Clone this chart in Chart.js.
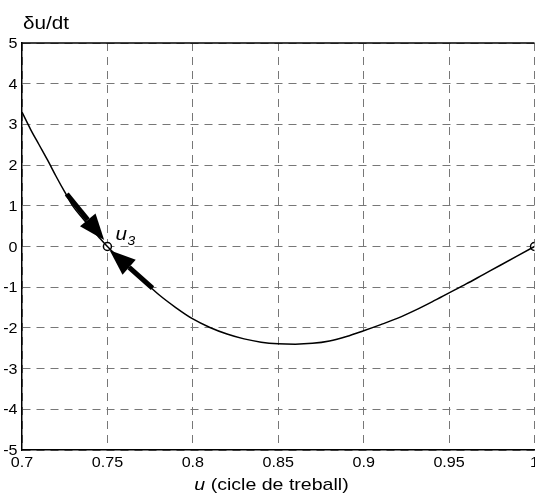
<!DOCTYPE html>
<html lang="ca">
<head>
<meta charset="UTF-8">
<title>δu/dt</title>
<script src="https://cdn.jsdelivr.net/npm/chart.js"></script>
<style>
    html, body { margin: 0; padding: 0; background: #fff; overflow: hidden; }
    .wrap { width: 540px; height: 494px; position: relative; }
</style>
</head>
<body>
<div class="wrap"><canvas id="phase"></canvas></div>
<script>
// u (work cycle) and the derivative du/dt along the curve
const uValues = [0.700, 0.705, 0.710, 0.715, 0.720, 0.725, 0.730, 0.735, 0.740, 0.745,
                 0.750, 0.760, 0.770, 0.780, 0.790, 0.800, 0.810, 0.820, 0.830, 0.840,
                 0.850, 0.860, 0.870, 0.880, 0.890, 0.900, 0.910, 0.920, 0.930, 0.940,
                 0.950, 0.960, 0.970, 0.980, 0.990, 1.000];
const dudtValues = [3.30, 2.88, 2.50, 2.12, 1.72, 1.34, 0.98, 0.72, 0.47, 0.23,
                    0.00, -0.41, -0.80, -1.18, -1.50, -1.78, -1.99, -2.15, -2.27, -2.35,
                    -2.39, -2.40, -2.38, -2.32, -2.21, -2.07, -1.92, -1.76, -1.57, -1.36,
                    -1.14, -0.92, -0.69, -0.46, -0.23, 0.00];

// equilibrium points (open circles)
const eqU = [0.75, 1.0];
const eqV = [0, 0];

// flow arrows: tail -> tip, in data units
const arrowTailU = [0.7262, 0.7764];
const arrowTailV = [1.29, -1.02];
const arrowTipU = [0.7481, 0.7513];
const arrowTipV = [0.16, -0.09];

const xTicks = [0.7, 0.75, 0.8, 0.85, 0.9, 0.95, 1.0];
const yTicks = [-5, -4, -3, -2, -1, 0, 1, 2, 3, 4, 5];

const FONT = '"Liberation Sans", Arial, Helvetica, sans-serif';
const SX = 1.15; // horizontal stretch of the lettering

function text(ctx, str, x, y, font, align) {
    ctx.save();
    ctx.translate(x, y);
    ctx.scale(SX, 1);
    ctx.font = font;
    ctx.textAlign = align || 'left';
    ctx.textBaseline = 'alphabetic';
    ctx.fillText(str, 0, 0);
    ctx.restore();
}

function textWidth(ctx, str, font) {
    ctx.save();
    ctx.font = font;
    const w = ctx.measureText(str).width * SX;
    ctx.restore();
    return w;
}

const decorations = {
    id: 'decorations',
    afterDraw(chart) {
        const { ctx, chartArea: a, scales: { x, y } } = chart;
        ctx.save();
        // top frame line
        ctx.strokeStyle = '#000';
        ctx.lineWidth = 1.5;
        ctx.beginPath();
        ctx.moveTo(a.left, a.top);
        ctx.lineTo(a.right, a.top);
        ctx.stroke();

        // arrows
        ctx.fillStyle = '#000';
        for (let i = 0; i < arrowTailU.length; i++) {
            const x0 = x.getPixelForValue(arrowTailU[i]);
            const y0 = y.getPixelForValue(arrowTailV[i]);
            const x1 = x.getPixelForValue(arrowTipU[i]);
            const y1 = y.getPixelForValue(arrowTipV[i]);
            const ang = Math.atan2(y1 - y0, x1 - x0);
            const headLen = 26, headHalf = 10;
            const bx = x1 - headLen * Math.cos(ang);
            const by = y1 - headLen * Math.sin(ang);
            ctx.lineWidth = 5;
            ctx.lineCap = 'butt';
            ctx.beginPath();
            ctx.moveTo(x0, y0);
            ctx.lineTo(bx, by);
            ctx.stroke();
            ctx.beginPath();
            ctx.moveTo(x1, y1);
            ctx.lineTo(bx + headHalf * Math.sin(ang), by - headHalf * Math.cos(ang));
            ctx.lineTo(bx - headHalf * Math.sin(ang), by + headHalf * Math.cos(ang));
            ctx.closePath();
            ctx.fill();
        }

        // tick labels
        const tickFont = '14px ' + FONT;
        xTicks.forEach(v => {
            text(ctx, String(v), x.getPixelForValue(v), 467, tickFont, 'center');
        });
        yTicks.forEach(v => {
            text(ctx, String(v), 17.5, y.getPixelForValue(v) + 5, tickFont, 'right');
        });

        // label of the equilibrium point
        const lx = x.getPixelForValue(eqU[0]) + 8;
        const ly = y.getPixelForValue(eqV[0]) - 6.5;
        const uFont = 'italic 18px ' + FONT;
        text(ctx, 'u', lx, ly, uFont);
        text(ctx, '3', lx + textWidth(ctx, 'u', uFont) + 0.5, ly + 5, 'italic 12px ' + FONT);

        // y axis title
        text(ctx, 'δu/dt', 23, 28.5, '18px ' + FONT);

        // x axis title, with italic u
        const f1 = 'italic 17px ' + FONT, f2 = '17px ' + FONT;
        const t1 = 'u', t2 = ' (cicle de treball)';
        const w1 = textWidth(ctx, t1, f1), w2 = textWidth(ctx, t2, f2);
        const sx = 271.5 - (w1 + w2) / 2;
        text(ctx, t1, sx, 490, f1);
        text(ctx, t2, sx + w1, 490, f2);
        ctx.restore();
    }
};

new Chart(document.getElementById('phase'), {
    type: 'line',
    data: {
        datasets: [{
            data: uValues.map((u, i) => ({ x: u, y: dudtValues[i] })),
            borderColor: '#000',
            borderWidth: 1.5,
            pointRadius: 0,
            cubicInterpolationMode: 'monotone',
            fill: false
        }, {
            data: eqU.map((u, i) => ({ x: u, y: eqV[i] })),
            showLine: false,
            pointRadius: 4,
            pointBorderWidth: 1.5,
            pointBorderColor: '#000',
            pointBackgroundColor: '#fff'
        }]
    },
    options: {
        responsive: true,
        maintainAspectRatio: false,
        animation: false,
        layout: { padding: { top: 43, right: 3.6, left: 0, bottom: 0 } },
        plugins: {
            legend: { display: false },
            tooltip: { enabled: false }
        },
        scales: {
            x: {
                type: 'linear',
                min: 0.7,
                max: 1.0,
                afterBuildTicks: s => { s.ticks = xTicks.map(v => ({ value: v })); },
                afterFit: s => { s.height = 44; s.paddingLeft = 0; s.paddingRight = 0; },
                ticks: { display: false },
                grid: { color: '#777', lineWidth: 1, drawTicks: false },
                border: { color: '#000', width: 1.5, dash: [8, 6] }
            },
            y: {
                min: -5,
                max: 5,
                afterBuildTicks: s => { s.ticks = yTicks.map(v => ({ value: v })); },
                afterFit: s => { s.width = 22; s.paddingTop = 0; s.paddingBottom = 0; },
                ticks: { display: false },
                grid: { color: '#777', lineWidth: 1, drawTicks: false },
                border: { color: '#000', width: 1.5, dash: [8, 6] }
            }
        }
    },
    plugins: [decorations]
});
</script>
</body>
</html>
